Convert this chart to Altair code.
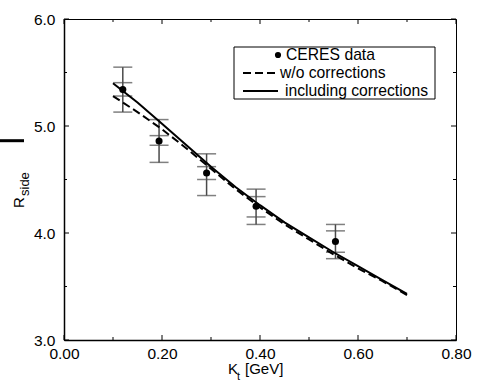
import altair as alt
import pandas as pd

# ---- data ----
kt_data = [0.120, 0.194, 0.291, 0.392, 0.554]
r_data = [5.34, 4.86, 4.56, 4.25, 3.92]
stat_lo = [5.28, 4.82, 4.50, 4.15, 3.82]
stat_hi = [5.405, 4.91, 4.62, 4.34, 4.02]
sys_lo = [5.13, 4.66, 4.35, 4.08, 3.76]
sys_hi = [5.55, 5.06, 4.74, 4.41, 4.08]

kt_curve = [0.10, 0.15, 0.20, 0.25, 0.30, 0.35, 0.40, 0.45, 0.50, 0.55, 0.60, 0.65, 0.70]
r_with = [5.40, 5.22, 5.02, 4.82, 4.62, 4.43, 4.26, 4.10, 3.96, 3.82, 3.69, 3.56, 3.43]
r_without = [5.28, 5.13, 4.97, 4.79, 4.60, 4.41, 4.24, 4.08, 3.94, 3.80, 3.67, 3.55, 3.42]

x_major = [0.0, 0.2, 0.4, 0.6, 0.8]
x_minor = [0.1, 0.3, 0.5, 0.7]
y_major = [3.0, 4.0, 5.0, 6.0]
y_minor = [3.5, 4.5, 5.5]

legend_labels = ["CERES data", "w/o corrections", "including corrections"]

W, H = 392, 321
FONT = "Liberation Sans"

pts = pd.DataFrame({"kt": kt_data, "r": r_data, "slo": stat_lo, "shi": stat_hi,
                    "ylo": sys_lo, "yhi": sys_hi})
curves = pd.DataFrame({"kt": kt_curve, "with": r_with, "without": r_without})

xs = alt.Scale(domain=[0, 0.8], nice=False, zero=False, padding=0)
ys = alt.Scale(domain=[3.0, 6.0], nice=False, zero=False, padding=0)

x_axis = alt.Axis(values=x_major, format=".2f", title=None, labelFlush=False, labelOverlap=False,
                  ticks=False, grid=False, labelFontSize=15.5, labelFont=FONT, labelColor="black",
                  labelPadding=6, domainColor="black", domainWidth=1.5)
y_axis = alt.Axis(values=y_major, format=".1f", title=None, labelFlush=False, labelOverlap=False,
                  ticks=False, grid=False, labelFontSize=15.5, labelFont=FONT, labelColor="black",
                  labelPadding=9, domainColor="black", domainWidth=1.5)

base = alt.Chart(pts)
ERR = "#4a4a4a"
err_sys = base.mark_rule(color=ERR, strokeWidth=1.5).encode(
    x=alt.X("kt:Q", scale=xs, axis=x_axis),
    y=alt.Y("ylo:Q", scale=ys, axis=y_axis), y2="yhi:Q")
caps = []
for f in ["slo", "shi", "ylo", "yhi"]:
    caps.append(base.mark_tick(color=ERR, size=19, thickness=1.5, orient="horizontal").encode(
        x=alt.X("kt:Q", scale=xs), y=alt.Y(f + ":Q", scale=ys)))
dots = base.mark_circle(color="black", size=50, opacity=1).encode(
    x=alt.X("kt:Q", scale=xs), y=alt.Y("r:Q", scale=ys))

cb = alt.Chart(curves)
line_without = cb.mark_line(color="black", strokeWidth=2, strokeDash=[8, 4]).encode(
    x=alt.X("kt:Q", scale=xs), y=alt.Y("without:Q", scale=ys))
line_with = cb.mark_line(color="black", strokeWidth=2).encode(
    x=alt.X("kt:Q", scale=xs), y=alt.Y("with:Q", scale=ys))

# inward ticks on all four sides
def xticks(vals, ln):
    d = alt.Chart(pd.DataFrame({"v": vals}))
    b = d.mark_rule(color="black", strokeWidth=1).encode(
        x=alt.X("v:Q", scale=xs), y=alt.value(H), y2=alt.value(H - ln))
    t = d.mark_rule(color="black", strokeWidth=1).encode(
        x=alt.X("v:Q", scale=xs), y=alt.value(0), y2=alt.value(ln))
    return [b, t]

def yticks(vals, ln):
    d = alt.Chart(pd.DataFrame({"v": vals}))
    l = d.mark_rule(color="black", strokeWidth=1).encode(
        y=alt.Y("v:Q", scale=ys), x=alt.value(0), x2=alt.value(ln))
    r = d.mark_rule(color="black", strokeWidth=1).encode(
        y=alt.Y("v:Q", scale=ys), x=alt.value(W), x2=alt.value(W - ln))
    return [l, r]

ticks = xticks(x_major, 5) + xticks(x_minor, 3) + yticks(y_major, 5) + yticks(y_minor, 3)

one = alt.Data(values=[{"a": 1}])

def txt(s, x, y, size=15, angle=0, align="left", baseline="alphabetic"):
    return alt.Chart(one).mark_text(text=s, fontSize=size, font=FONT, color="black",
                                    align=align, baseline=baseline, angle=angle).encode(
        x=alt.value(x), y=alt.value(y))

# legend (drawn by hand)
leg_box = alt.Chart(one).mark_rect(fill="white", stroke="black", strokeWidth=1).encode(
    x=alt.value(170), x2=alt.value(371), y=alt.value(28), y2=alt.value(80))
leg_dot = alt.Chart(one).mark_circle(color="black", size=38, opacity=1).encode(
    x=alt.value(214), y=alt.value(36))
leg_dash = alt.Chart(one).mark_rule(color="black", strokeWidth=2, strokeDash=[8, 4]).encode(
    x=alt.value(179), x2=alt.value(213), y=alt.value(54))
leg_solid = alt.Chart(one).mark_rule(color="black", strokeWidth=2).encode(
    x=alt.value(179), x2=alt.value(214), y=alt.value(72))
leg_texts = [txt(legend_labels[0], 222, 36, size=15.7, baseline="middle"),
             txt(legend_labels[1], 216, 54, size=15.7, baseline="middle"),
             txt(legend_labels[2], 221, 72, size=15.7, baseline="middle")]

# axis titles with subscripts
x_title = [txt("K", 164, 355), txt("t", 173, 361, size=11), txt("[GeV]", 181, 355)]
y_title = [txt("R", -40.5, 189, angle=270), txt("side", -35.5, 177, size=13, angle=270)]

# stray mark at the left edge
stray = alt.Chart(one).mark_rule(color="black", strokeWidth=3).encode(
    x=alt.value(-64), x2=alt.value(-40), y=alt.value(121.7))

chart = alt.layer(
    err_sys, *caps, line_without, line_with, dots, *ticks,
    leg_box, leg_dot, leg_dash, leg_solid, *leg_texts, *x_title, *y_title, stray
).properties(
    width=W, height=H,
    autosize=alt.AutoSizeParams(type="none"),
    padding={"left": 64, "top": 19, "right": 28, "bottom": 50},
    background="white",
).configure_view(stroke="black", strokeWidth=1)

chart.save("out.html", embed_options={"renderer": "svg", "actions": False})
